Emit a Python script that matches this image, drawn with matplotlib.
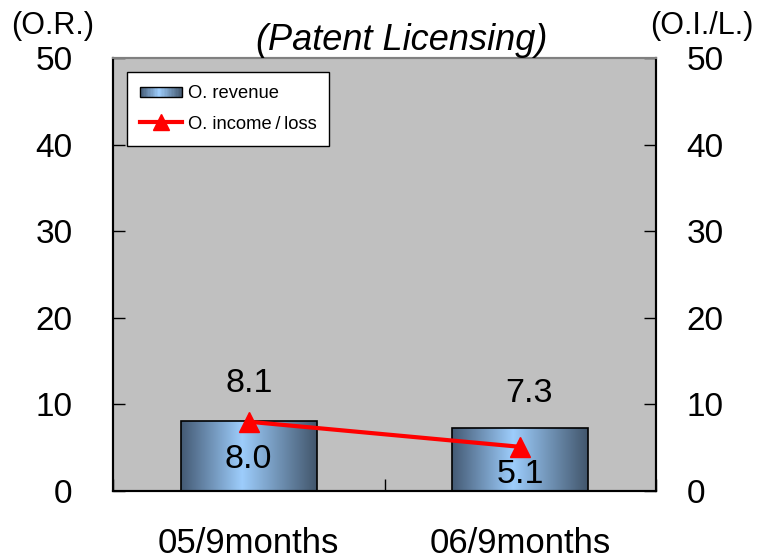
import numpy as np
import matplotlib
matplotlib.use("Agg")
import matplotlib.pyplot as plt
from matplotlib.colors import LinearSegmentedColormap
from matplotlib.patches import Rectangle
from matplotlib.lines import Line2D
from matplotlib.legend_handler import HandlerBase

plt.rcParams['font.family'] = ['Liberation Sans', 'DejaVu Sans']

# Data
categories = ["05/9months", "06/9months"]
revenue = [8.1, 7.3]          # O. revenue (bars, left axis)
income = [8.0, 5.1]           # O. income/loss (line, right axis)
y_ticks = [0, 10, 20, 30, 40, 50]

title = "(Patent Licensing)"
left_label = "(O.R.)"
right_label = "(O.I./L.)"
legend_labels = ["O. revenue", "O. income\u2009/\u2009loss"]

bar_cmap = LinearSegmentedColormap.from_list(
    "bar_grad", [(0.0, "#445a74"), (0.45, "#9dcdfc"), (1.0, "#42566c")])

fig = plt.figure(figsize=(7.62, 5.6), dpi=100)
ax = fig.add_axes([113 / 762, 1 - 491 / 560, 543 / 762, 433 / 560])
ax.set_facecolor("#c0c0c0")
ax2 = ax.twinx()

x = np.arange(len(categories))
bar_w = 0.5
ax.set_xlim(-0.5, len(categories) - 0.5)
ax.set_ylim(0, 50)
ax2.set_ylim(0, 50)

# Bars with a horizontal gradient fill
grad = np.linspace(0, 1, 256).reshape(1, -1)
bars = ax.bar(x, revenue, width=bar_w, facecolor="none", edgecolor="black",
              linewidth=1.2, zorder=3)
for b in bars:
    x0, y0 = b.get_x(), b.get_y()
    im = ax.imshow(grad, cmap=bar_cmap, aspect="auto", zorder=2,
                   extent=(x0, x0 + b.get_width(), y0, y0 + b.get_height()))
    im.set_clip_path(b)

# Revenue value labels above bars
rev_offsets = [(0, 27), (6, 25)]
for xi, v, off in zip(x, revenue, rev_offsets):
    ax.annotate(f"{v:.1f}", (xi, v), xytext=off, textcoords="offset points",
                ha="center", va="center", fontsize=24.5, zorder=5)

# Income line on the right axis
ax2.plot(x, income, color="#ff0000", linewidth=3, marker="^",
         markersize=14, markeredgecolor="#ff0000", zorder=4)
inc_offsets = [(0, -27), (0, -20)]
for xi, v, off in zip(x, income, inc_offsets):
    ax2.annotate(f"{v:.1f}", (xi, v), xytext=off, textcoords="offset points",
                 ha="center", va="center", fontsize=24.5, zorder=5)

# Axes styling
ax.set_yticks(y_ticks)
ax2.set_yticks(y_ticks)
ax.tick_params(axis="y", direction="in", length=8.5, width=1, labelsize=24,
               pad=29, colors="black")
ax2.tick_params(axis="y", direction="in", length=8.5, width=1, labelsize=24,
                pad=22, colors="black")
ax.set_xticks([-0.5, 0.5, 1.5])
ax.set_xticklabels([])
ax.set_xticks(x, minor=True)
ax.set_xticklabels(categories, minor=True, fontsize=25)
ax.tick_params(axis="x", which="major", direction="in", length=8.5, width=1)
ax.tick_params(axis="x", which="minor", length=0, pad=26)

for a in (ax, ax2):
    a.spines["left"].set_linewidth(1.5)
    a.spines["right"].set_linewidth(1.5)
    a.spines["bottom"].set_linewidth(1.5)
    a.spines["top"].set_color("#808080")
    a.spines["top"].set_linewidth(1.5)


class GradientHandler(HandlerBase):
    def create_artists(self, legend, orig_handle, xdescent, ydescent,
                       width, height, fontsize, trans):
        n = 30
        y = -ydescent + height * 0.1
        h = height * 0.8
        arts = []
        for i in range(n):
            arts.append(Rectangle((-xdescent + i * width / n, y), width / n, h,
                                  facecolor=bar_cmap((i + 0.5) / n),
                                  edgecolor="none", transform=trans))
        arts.append(Rectangle((-xdescent, y), width, h, facecolor="none",
                              edgecolor="black", linewidth=1, transform=trans))
        return arts


bar_handle = Rectangle((0, 0), 1, 1)
line_handle = Line2D([0], [0], color="#ff0000", linewidth=3, marker="^",
                     markersize=11)
leg = ax2.legend([bar_handle, line_handle], legend_labels,
                 handler_map={Rectangle: GradientHandler()},
                 loc="upper left", bbox_to_anchor=(0.026, 0.967),
                 fontsize=13.2, frameon=True, fancybox=False,
                 edgecolor="black", facecolor="white", framealpha=1,
                 handlelength=2.3, handletextpad=0.3, borderpad=0.7,
                 labelspacing=0.75, borderaxespad=0)
leg.get_frame().set_linewidth(1)

fig.text(402 / 762, 1 - 41 / 560, title, ha="center", va="center",
         fontsize=26, style="italic")
fig.text(53 / 762, 1 - 26 / 560, left_label, ha="center", va="center",
         fontsize=22)
fig.text(702 / 762, 1 - 26 / 560, right_label, ha="center", va="center",
         fontsize=22)

fig.savefig("out.png", dpi=100)
